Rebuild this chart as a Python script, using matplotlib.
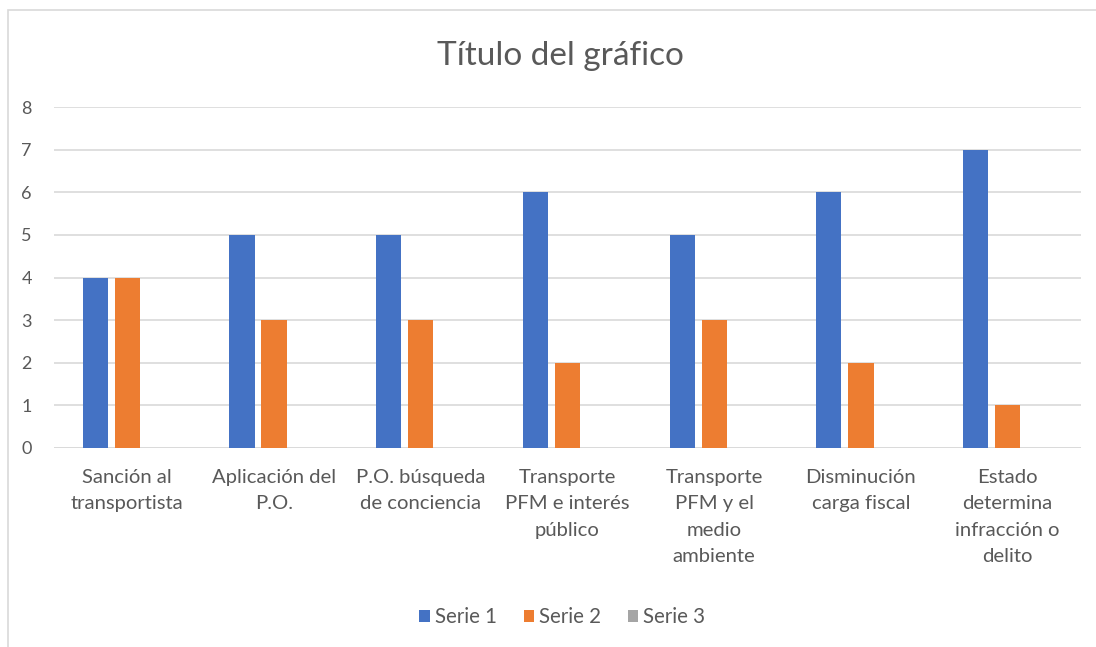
import matplotlib.pyplot as plt
from matplotlib.patches import Rectangle
import numpy as np

plt.rcParams['font.family'] = ['Lato', 'DejaVu Sans']

categories = ["Sanción al\ntransportista", "Aplicación del\nP.O.", "P.O. búsqueda\nde conciencia",
              "Transporte\nPFM e interés\npúblico", "Transporte\nPFM y el\nmedio\nambiente",
              "Disminución\ncarga fiscal", "Estado\ndetermina\ninfracción o\ndelito"]
serie1 = [4, 5, 5, 6, 5, 6, 7]
serie2 = [4, 3, 3, 2, 3, 2, 1]
serie3 = [0, 0, 0, 0, 0, 0, 0]
series_names = ["Serie 1", "Serie 2", "Serie 3"]
colors = ["#4472C4", "#ED7D31", "#A5A5A5"]

fig = plt.figure(figsize=(10.96, 6.47), dpi=100)
ax = fig.add_axes([54/1096, 199/647, (1081-54)/1096, (448-107)/647])

# chart area border (top and left only visible)
fig.patches.append(Rectangle((8/1096, -0.1), 1.2, (647-10)/647 + 0.1, transform=fig.transFigure,
                             fill=False, edgecolor="#D9D9D9", linewidth=1.2))

x = np.arange(len(categories))
w = 0.172
step = w * 1.27
handles = []
for i, (vals, name) in enumerate(zip([serie1, serie2, serie3], series_names)):
    b = ax.bar(x + (i - 1) * step, vals, width=w, color=colors[i], label=name, zorder=3)
    handles.append(b)

ax.set_xlim(-0.5, len(categories) - 0.5)
ax.set_ylim(0, 8)
ax.set_yticks(range(0, 9))
ax.yaxis.grid(True, color="#D9D9D9", linewidth=1.2, zorder=0)
for s in ax.spines.values():
    s.set_visible(False)
ax.axhline(0, color="#D9D9D9", linewidth=1.2, zorder=2)
ax.tick_params(axis='both', length=0, colors="#595959")
ax.tick_params(axis='y', pad=16, labelsize=13)
ax.tick_params(axis='x', pad=15, labelsize=14.6)
ax.set_xticks(x)
ax.set_xticklabels(categories, linespacing=1.68)

fig.text(0.511, 1 - 56/647, "Título del gráfico", ha='center', va='center', fontsize=24, color="#595959")

leg = fig.legend(handles=[h for h in handles], labels=series_names, loc='center',
                 bbox_to_anchor=(0.513, 1 - 617/647), ncol=3, frameon=False, fontsize=14.8,
                 handlelength=0.5, handleheight=0.5, handletextpad=0.25, columnspacing=1.3)
for t in leg.get_texts():
    t.set_color("#595959")

fig.savefig("out.png", dpi=100)
